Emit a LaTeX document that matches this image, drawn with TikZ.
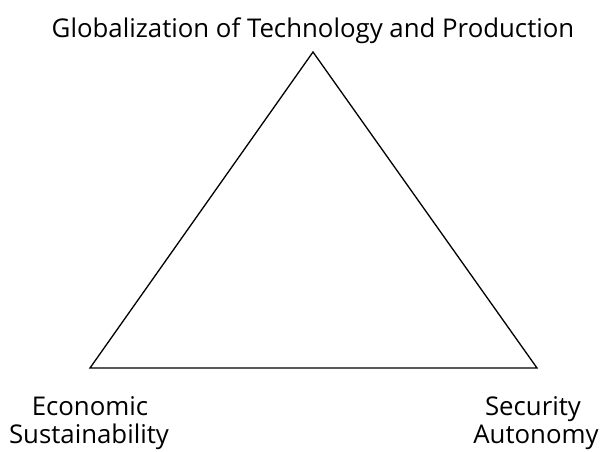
\documentclass[tikz,border=0pt]{standalone}
\usepackage{fontspec}
\setmainfont{Open Sans}
\begin{document}
\begin{tikzpicture}[x=1pt,y=-1pt,
  lbl/.style={inner sep=0pt,font=\fontsize{25.8}{28}\selectfont,align=center,text=black}]
\useasboundingbox (0,0) rectangle (603,451);
\coordinate (T) at (313,52);
\coordinate (L) at (90,368);
\coordinate (R) at (537,368);
\draw[line width=1.3pt,line join=miter] (T) -- (L) -- (R) -- cycle;
\node[lbl,anchor=base] (top) at (313,37) {Globalization of Technology and Production};
\node[lbl,anchor=base] (econ1) at (90,415) {Economic};
\node[lbl,anchor=base] (econ2) at (89,443) {Sustainability};
\node[lbl,anchor=base] (sec1) at (533,415) {Security};
\node[lbl,anchor=base] (sec2) at (536,443) {Autonomy};
\end{tikzpicture}
\end{document}
